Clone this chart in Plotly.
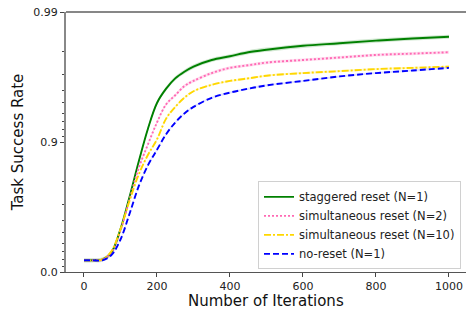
import numpy as np
import plotly.graph_objects as go

iterations = [0, 25, 50, 75, 100, 125, 150, 175, 200, 225, 250, 275, 300,
              350, 400, 450, 500, 600, 700, 800, 900, 1000]

staggered_n1 = [0.1872, 0.1872, 0.1965, 0.2921, 0.5323, 0.7370, 0.8587, 0.9206,
                0.9499, 0.9611, 0.9676, 0.9712, 0.9737, 0.9766, 0.9781, 0.9796,
                0.9805, 0.9818, 0.9826, 0.9834, 0.9840, 0.9845]
simultaneous_n2 = [0.1872, 0.1872, 0.1965, 0.2921, 0.5214, 0.7246, 0.8415, 0.8953,
                   0.9292, 0.9487, 0.9563, 0.9628, 0.9661, 0.9705, 0.9731, 0.9743,
                   0.9755, 0.9766, 0.9776, 0.9786, 0.9791, 0.9796]
simultaneous_n10 = [0.1872, 0.1872, 0.1965, 0.3082, 0.5323, 0.7182, 0.8222, 0.8741,
                    0.9045, 0.9339, 0.9463, 0.9543, 0.9593, 0.9637, 0.9661, 0.9676,
                    0.9691, 0.9705, 0.9715, 0.9725, 0.9731, 0.9737]
no_reset_n1 = [0.1872, 0.1872, 0.1872, 0.2587, 0.4377, 0.6452, 0.7812, 0.8486,
               0.8852, 0.9129, 0.9292, 0.9397, 0.9463, 0.9543, 0.9583, 0.9611,
               0.9633, 0.9661, 0.9687, 0.9705, 0.9718, 0.9731]

# spread of the shaded band (in -log10(1 - rate) units)
spread = {"staggered reset (N=1)": 0.016, "simultaneous reset (N=2)": 0.012,
          "simultaneous reset (N=10)": 0.008, "no-reset (N=1)": 0.008}

y_tick_labels = ["0.0", "0.9", "0.99"]
y_tick_rates = [0.0, 0.9, 0.99]
y_minor_rates = [0.1, 0.2, 0.3, 0.4, 0.5, 0.6, 0.7, 0.8,
                 0.91, 0.92, 0.93, 0.94, 0.95, 0.96, 0.97, 0.98]
x_ticks = [0, 200, 400, 600, 800, 1000]


def tr(v):
    return -np.log10(1.0 - np.asarray(v, dtype=float))


series = [
    ("staggered reset (N=1)", staggered_n1, "#008000", "solid", "rgba(0,128,0,0.18)"),
    ("simultaneous reset (N=2)", simultaneous_n2, "#ff69b4", "2px,2px", "rgba(255,105,180,0.22)"),
    ("simultaneous reset (N=10)", simultaneous_n10, "#ffd700", "7px,2px,2px,2px", "rgba(255,215,0,0.2)"),
    ("no-reset (N=1)", no_reset_n1, "#0000ff", "6px,3px", "rgba(0,0,255,0.12)"),
]

fig = go.Figure()
for name, vals, col, dash, fill in series:
    t = tr(vals)
    s = spread[name]
    fig.add_trace(go.Scatter(x=iterations, y=t + s, mode="lines", line=dict(width=0, shape="spline"),
                             showlegend=False, hoverinfo="skip"))
    fig.add_trace(go.Scatter(x=iterations, y=t - s, mode="lines", line=dict(width=0, shape="spline"),
                             fill="tonexty", fillcolor=fill, showlegend=False, hoverinfo="skip"))
for name, vals, col, dash, fill in series:
    fig.add_trace(go.Scatter(x=iterations, y=tr(vals), mode="lines", name=name,
                             line=dict(color=col, width=1.9, dash=dash, shape="spline")))

font = "DejaVu Sans, Arial, sans-serif"
fig.update_layout(
    width=466, height=320,
    margin=dict(l=66, r=0, t=12, b=48, autoexpand=False),
    paper_bgcolor="white", plot_bgcolor="white",
    font=dict(family=font, size=11, color="#222"),
    showlegend=True,
    legend=dict(x=0.9875, y=0.01, xanchor="right", yanchor="bottom",
                traceorder="normal",
                bgcolor="rgba(255,255,255,0.9)", bordercolor="#d0d0d0", borderwidth=1,
                font=dict(size=11.5, family=font, color="#222"), itemwidth=30,
                tracegroupgap=0),
    xaxis=dict(range=[-49.3, 1046.6], tickvals=x_ticks, ticktext=[str(v) for v in x_ticks],
               automargin=False,
               showgrid=False, zeroline=False, ticks="outside", ticklen=4, tickcolor="#444",
               showline=True, linecolor="#555", linewidth=1.2,
               tickfont=dict(size=11, family=font, color="#222")),
    yaxis=dict(range=[0, 2], tickvals=list(tr(y_tick_rates)), ticktext=y_tick_labels,
               automargin=False,
               showgrid=False, zeroline=False, ticks="outside", ticklen=4, tickcolor="#444",
               showline=True, linecolor="#888", linewidth=2,
               minor=dict(tickvals=list(tr(y_minor_rates)), ticks="outside", ticklen=2.5,
                          tickcolor="#444", showgrid=False),
               title=dict(text="Task Success Rate", font=dict(size=15, family=font, color="#111"),
                          standoff=6),
               tickfont=dict(size=11, family=font, color="#222")),
)
fig.add_annotation(text="Number of Iterations", xref="paper", yref="paper", x=0.5, y=0,
                   xanchor="center", yanchor="top", yshift=-18, showarrow=False,
                   font=dict(size=15, family=font, color="#111"))
fig.add_shape(type="line", xref="paper", yref="paper", x0=0, x1=1, y0=1, y1=1,
              line=dict(color="#111", width=1.2))

fig.write_html("out.html", config={"displayModeBar": False},
               post_script="document.body.style.margin='0';document.body.style.overflow='hidden';")
